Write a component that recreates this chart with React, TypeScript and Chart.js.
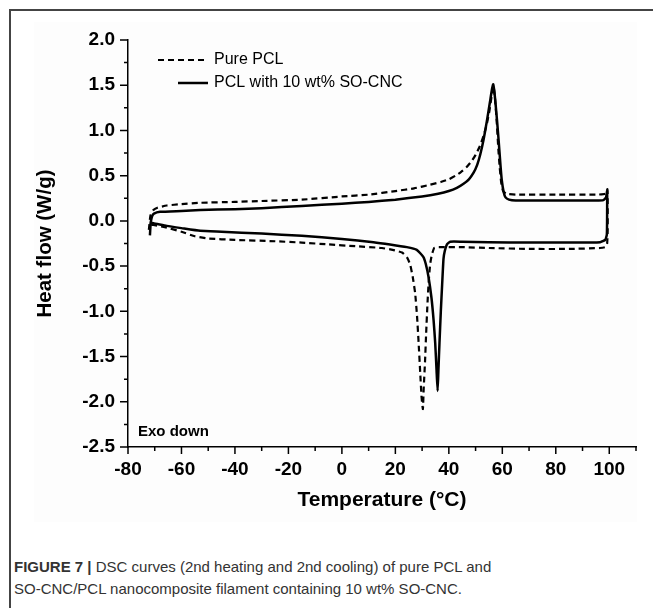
import React, { useEffect, useRef } from "react";
import { Chart, registerables } from "chart.js";

Chart.register(...registerables);

// ---- Data ----
const xTitle = "Temperature (°C)";
const yTitle = "Heat flow (W/g)";
const seriesLabels = ["Pure PCL", "PCL with 10 wt% SO-CNC"];
const annotationText = "Exo down";
const captionBold = "FIGURE 7 |";
const captionLine1 = " DSC curves (2nd heating and 2nd cooling) of pure PCL and";
const captionLine2 = "SO-CNC/PCL nanocomposite filament containing 10 wt% SO-CNC.";

const xMin = -80;
const xMax = 110;
const yMin = -2.5;
const yMax = 2.0;

// Pure PCL (dashed): heating then cooling loop
const pureX = [
  -72.2, -71.6, -70.5, -69, -65.5, -60, -53, -40, -30, -15, 0, 10, 20, 27, 33, 37, 40, 42.5, 44.5, 46.5, 48.5,
  50, 51.5, 53, 54.2, 55.2, 56, 56.7, 57.2, 57.9, 58.5, 59, 59.6, 60.3, 61.5, 65, 80, 95, 98.5, 99.3,
  99.4, 99.4, 99.2, 98.5, 96.5, 85, 70, 55, 45, 38, 35.5, 34.5, 33.6, 33, 32.4, 32, 31.5, 31.1, 30.6, 30.3,
  29.8, 29.3, 28.7, 28.1, 27.4, 26.5, 25.5, 24.3, 22.5, 19, 15, 5, -5, -15, -25, -40, -50, -55, -60, -65.5,
  -70.5, -72,
];
const pureY = [
  -0.1, 0.06, 0.12, 0.145, 0.17, 0.185, 0.2, 0.21, 0.22, 0.235, 0.27, 0.29, 0.33, 0.36, 0.4, 0.43, 0.46, 0.5,
  0.54, 0.59, 0.66, 0.73, 0.82, 0.94, 1.07, 1.22, 1.38, 1.49, 1.38, 1.1, 0.8, 0.6, 0.42, 0.33, 0.3, 0.29, 0.29,
  0.29, 0.3, 0.35, 0.2, -0.1, -0.25, -0.29, -0.3, -0.31, -0.31, -0.3, -0.29, -0.29, -0.29, -0.3, -0.38, -0.48,
  -0.7, -0.92, -1.25, -1.55, -1.85, -2.08, -1.95, -1.68, -1.35, -1.05, -0.8, -0.62, -0.48, -0.4, -0.35, -0.32,
  -0.3, -0.28, -0.26, -0.24, -0.225, -0.21, -0.195, -0.17, -0.12, -0.075, -0.045, -0.04,
];

// PCL with 10 wt% SO-CNC (solid)
const compX = [
  -71.8, -71.5, -71.0, -70.3, -68, -60, -53, -40, -30, -15, 0, 10, 20, 30, 36, 40, 43, 45.5, 47.5, 49.2, 50.6,
  51.8, 53, 54.2, 55.3, 56.1, 56.6, 57.2, 58, 58.6, 59.3, 59.8, 60.5, 61.2, 62.5, 65, 80, 95, 97.8, 98.8, 99.2,
  99.2, 99.1, 98.5, 96.6, 85, 70, 55, 45, 40.5, 39.3, 38.5, 38, 37.5, 37, 36.5, 36.1, 35.8, 35.4, 34.9, 34.3,
  33.5, 32.4, 31.4, 30.5, 28, 24.3, 18, 11.8, 0, -15, -30, -45, -53, -60, -65.5, -70.5, -72,
];
const compY = [
  -0.16, -0.02, 0.05, 0.08, 0.1, 0.11, 0.12, 0.13, 0.14, 0.165, 0.19, 0.21, 0.235, 0.27, 0.3, 0.33, 0.365, 0.41,
  0.46, 0.53, 0.62, 0.74, 0.9, 1.1, 1.3, 1.45, 1.51, 1.38, 1.12, 0.9, 0.62, 0.45, 0.32, 0.26, 0.235, 0.225,
  0.225, 0.225, 0.23, 0.26, 0.33, 0.1, -0.15, -0.21, -0.235, -0.24, -0.24, -0.235, -0.23, -0.23, -0.26, -0.33,
  -0.42, -0.7, -1.0, -1.35, -1.65, -1.88, -1.65, -1.35, -1.1, -0.85, -0.62, -0.48, -0.4, -0.32, -0.29, -0.26,
  -0.235, -0.2, -0.165, -0.14, -0.12, -0.11, -0.08, -0.055, -0.025, -0.02,
];

const FONT = "'Liberation Sans', Arial, Helvetica, sans-serif";

const ticksPlugin = {
  id: "majorMinorTicks",
  afterDraw(chart: any) {
    const { ctx } = chart;
    const x = chart.scales.x;
    const y = chart.scales.y;
    ctx.save();
    ctx.strokeStyle = "#000";
    ctx.lineWidth = 1.5;
    ctx.beginPath();
    x.ticks.forEach((t: any) => {
      const px = x.getPixelForValue(t.value);
      const major = Math.round(t.value) % 20 === 0;
      ctx.moveTo(px, x.top);
      ctx.lineTo(px, x.top + (major ? 7 : 4));
    });
    y.ticks.forEach((t: any) => {
      const py = y.getPixelForValue(t.value);
      const major = Math.round(t.value * 4) % 2 === 0;
      ctx.moveTo(y.right, py);
      ctx.lineTo(y.right - (major ? 8 : 4), py);
    });
    ctx.stroke();
    ctx.restore();
  },
};

const legendPlugin = {
  id: "insideLegend",
  afterDraw(chart: any) {
    const { ctx, chartArea } = chart;
    const rows = [
      { x0: chartArea.left + 30, y: chartArea.top + 20 },
      { x0: chartArea.left + 50, y: chartArea.top + 43 },
    ];
    const lineEnd = chartArea.left + 80;
    ctx.save();
    chart.data.datasets.forEach((ds: any, i: number) => {
      const r = rows[i];
      ctx.beginPath();
      ctx.strokeStyle = ds.borderColor;
      ctx.lineWidth = ds.borderWidth;
      ctx.setLineDash(ds.borderDash || []);
      ctx.moveTo(r.x0, r.y);
      ctx.lineTo(lineEnd, r.y);
      ctx.stroke();
      ctx.setLineDash([]);
      ctx.fillStyle = "#000";
      ctx.font = `16px ${FONT}`;
      ctx.textBaseline = "middle";
      ctx.textAlign = "left";
      ctx.fillText(ds.label, lineEnd + 6, r.y);
    });
    ctx.font = `bold 15px ${FONT}`;
    ctx.fillStyle = "#000";
    ctx.textBaseline = "middle";
    ctx.fillText(annotationText, chartArea.left + 10, chartArea.bottom - 15);
    ctx.restore();
  },
};

export default function App() {
  const canvasRef = useRef<HTMLCanvasElement | null>(null);

  useEffect(() => {
    if (!canvasRef.current) return;
    const chart = new Chart(canvasRef.current, {
      type: "scatter",
      data: {
        datasets: [
          {
            label: seriesLabels[0],
            data: pureX.map((x, i) => ({ x, y: pureY[i] })),
            showLine: true,
            borderColor: "#000",
            borderWidth: 2.2,
            borderDash: [6, 4],
            pointRadius: 0,
            tension: 0.15,
            fill: false,
          },
          {
            label: seriesLabels[1],
            data: compX.map((x, i) => ({ x, y: compY[i] })),
            showLine: true,
            borderColor: "#000",
            borderWidth: 2.5,
            pointRadius: 0,
            tension: 0.15,
            fill: false,
          },
        ],
      },
      options: {
        animation: false,
        responsive: false,
        devicePixelRatio: 1,
        layout: { padding: { top: 40, left: 0, right: 17, bottom: 0 } },
        plugins: {
          legend: { display: false },
          tooltip: { enabled: false },
        },
        scales: {
          x: {
            type: "linear",
            min: xMin,
            max: xMax,
            afterFit: (s: any) => {
              s.height = 93;
            },
            border: { display: true, color: "#000", width: 1.5 },
            grid: { display: false, drawTicks: true, tickLength: 7 },
            ticks: {
              stepSize: 10,
              autoSkip: false,
              maxRotation: 0,
              padding: 4,
              color: "#000",
              font: { family: FONT, size: 19, weight: "bold" },
              callback: (v: any) => (Math.round(v) % 20 === 0 && v <= 100 ? String(v) : ""),
            },
            title: {
              display: true,
              text: xTitle,
              color: "#000",
              font: { family: FONT, size: 21, weight: "bold" },
              padding: { top: 0, bottom: 27 },
            },
          },
          y: {
            type: "linear",
            min: yMin,
            max: yMax,
            afterFit: (s: any) => {
              s.width = 128;
            },
            border: { display: true, color: "#000", width: 1.5 },
            grid: { display: false, drawTicks: true, tickLength: 8 },
            ticks: {
              stepSize: 0.25,
              autoSkip: false,
              padding: 5,
              color: "#000",
              font: { family: FONT, size: 19, weight: "bold" },
              callback: (v: any) => (Math.round(v * 4) % 2 === 0 ? Number(v).toFixed(1) : ""),
            },
            title: {
              display: true,
              text: yTitle,
              color: "#000",
              font: { family: FONT, size: 20.5, weight: "bold" },
              padding: { top: 33, bottom: 0 },
            },
          },
        },
      },
      plugins: [ticksPlugin, legendPlugin],
    } as any);
    return () => chart.destroy();
  }, []);

  return (
    <div style={{ position: "fixed", left: 0, top: 0, width: 653, height: 608, background: "#fff", overflow: "hidden" }}>
      <div style={{ position: "absolute", left: 34, top: 22, width: 603, height: 500, background: "#fdfdfd" }} />
      <canvas
        ref={canvasRef}
        width={653}
        height={540}
        style={{ position: "absolute", left: 0, top: 0, width: 653, height: 540 }}
      />
      <div style={{ position: "absolute", left: 9, top: 9, width: 644, height: 2, background: "#444" }} />
      <div style={{ position: "absolute", left: 9, top: 9, width: 2, height: 599, background: "#444" }} />
      <div
        style={{
          position: "absolute",
          left: 14,
          top: 556,
          width: 630,
          fontFamily: FONT,
          fontSize: 15,
          lineHeight: "22px",
          color: "#333",
        }}
      >
        <div>
          <b>{captionBold}</b>
          {captionLine1}
        </div>
        <div>{captionLine2}</div>
      </div>
    </div>
  );
}
